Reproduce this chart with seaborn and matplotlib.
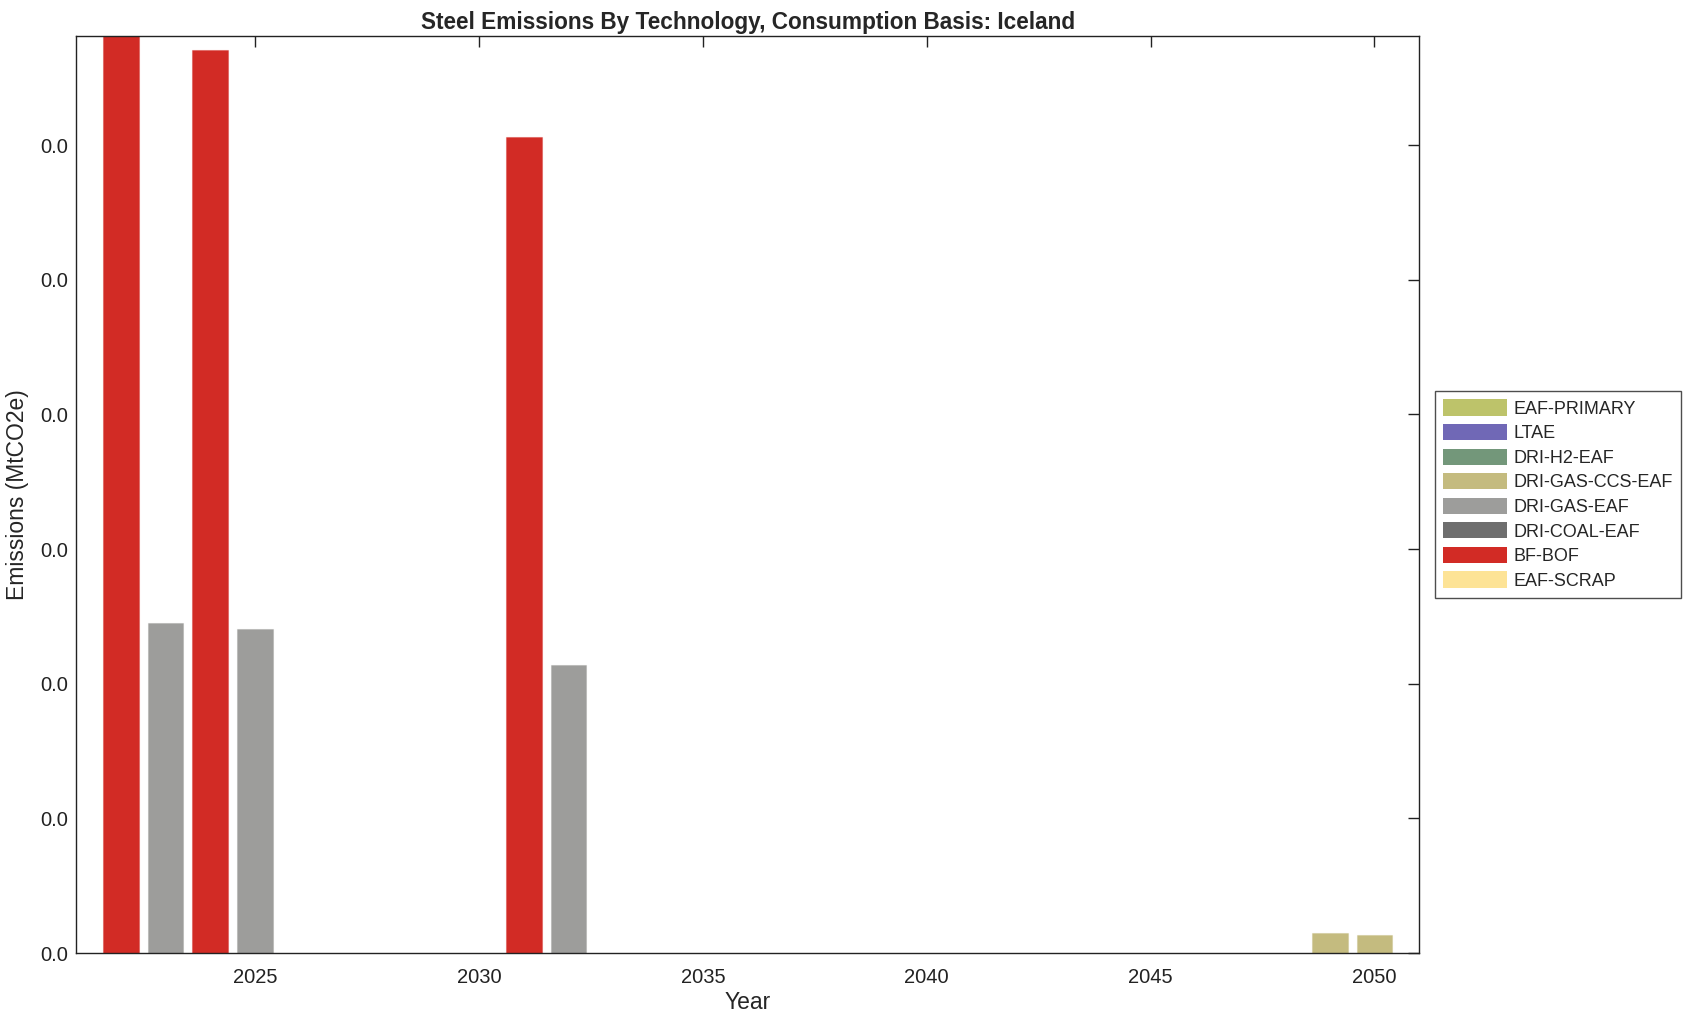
import numpy as np
import pandas as pd
import seaborn as sns
import matplotlib.pyplot as plt
from matplotlib.patches import Patch
from matplotlib.ticker import FormatStrFormatter

# emissions by technology (MtCO2e), only the years that have anything in them
years = [2022, 2023, 2024, 2025, 2031, 2032, 2049, 2050]
bf_bof = [0.00695, 0.0, 0.00671, 0.0, 0.00606, 0.0, 0.0, 0.0]
dri_gas_eaf = [0.0, 0.00245, 0.0, 0.00241, 0.0, 0.00214, 0.0, 0.0]
dri_gas_ccs_eaf = [0.0, 0.0, 0.0, 0.0, 0.0, 0.0, 0.000145, 0.000137]

techs = ["EAF-PRIMARY", "LTAE", "DRI-H2-EAF", "DRI-GAS-CCS-EAF",
         "DRI-GAS-EAF", "DRI-COAL-EAF", "BF-BOF", "EAF-SCRAP"]
colors = ["#bdc36a", "#7068b6", "#73977a", "#c4bb7f",
          "#9d9d9b", "#6e6e6e", "#d22b25", "#fde396"]
palette = dict(zip(techs, colors))

series = {"BF-BOF": bf_bof, "DRI-GAS-EAF": dri_gas_eaf, "DRI-GAS-CCS-EAF": dri_gas_ccs_eaf}
df = pd.concat(
    [pd.DataFrame({"Year": years, "Emissions": v, "Technology": k}) for k, v in series.items()],
    ignore_index=True,
)
df = df[df["Emissions"] > 0]

sns.set_style("white")
plt.rcParams["font.family"] = ["Liberation Sans", "DejaVu Sans"]

fig = plt.figure(figsize=(16.96, 10.21), dpi=100)
ax = fig.add_axes([0.0448, 0.0666, 0.792, 0.898])

sns.barplot(
    data=df, x="Year", y="Emissions", hue="Technology", palette=palette,
    native_scale=True, dodge=False, width=0.8, ax=ax, legend=False,
    edgecolor="white", linewidth=0.8, saturation=1,
)
for p in ax.patches:
    fc = p.get_facecolor()
    p.set_edgecolor((*fc[:3], 0.35))

ax.set_xlim(2021, 2051)
ax.set_ylim(0, 0.00681)
ax.set_xticks([2025, 2030, 2035, 2040, 2045, 2050])
ax.set_yticks(np.arange(0, 0.0065, 0.001))
ax.yaxis.set_major_formatter(FormatStrFormatter("%.1f"))
ax.tick_params(direction="in", length=8, width=1, top=True, right=True,
               labelsize=14.5, colors="#222222", pad=6)
ax.tick_params(axis="x", pad=11)
for s in ax.spines.values():
    s.set_visible(True)
    s.set_color("#222222")
    s.set_linewidth(1)

ax.set_xlabel("Year", fontsize=16.5, labelpad=3)
ax.set_ylabel("Emissions (MtCO2e)", fontsize=16.5, labelpad=8)
ax.set_title("Steel Emissions By Technology, Consumption Basis: Iceland",
             fontsize=16.3, fontweight="bold", pad=5)

handles = [Patch(facecolor=palette[t], edgecolor="none", label=t) for t in techs]
leg = ax.legend(handles=handles, loc="center left", bbox_to_anchor=(1.012, 0.5),
                borderaxespad=0, fontsize=13, frameon=True, fancybox=False,
                handlelength=3.5, handleheight=1.0, labelspacing=0.35,
                borderpad=0.45, handletextpad=0.4)
leg.get_frame().set_edgecolor("#222222")
leg.get_frame().set_linewidth(1)

fig.savefig("out.png", dpi=100)
